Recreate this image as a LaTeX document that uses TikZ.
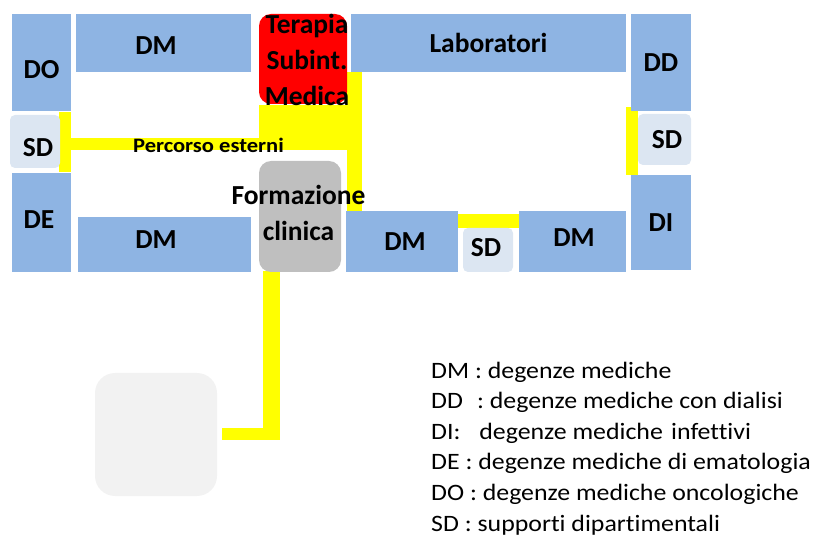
\documentclass[tikz,border=0pt]{standalone}
\usepackage{fontspec}
\setmainfont[Ligatures=NoCommon]{Carlito}
\newfontfamily\widefont[FakeStretch=1.1,Ligatures=NoCommon]{Carlito}
\definecolor{wardblue}{HTML}{8EB4E3}
\definecolor{supportblue}{HTML}{DCE6F2}
\definecolor{corridoryellow}{HTML}{FFFF00}
\definecolor{intensivered}{HTML}{FF0000}
\definecolor{trainingrey}{HTML}{BFBFBF}
\definecolor{paleblock}{HTML}{F2F2F2}
\begin{document}
\begin{tikzpicture}[x=1pt,y=-1pt,
  area/.style={draw=none,inner sep=0pt,outer sep=0pt,anchor=north west},
  ward/.style={area,fill=wardblue},
  support/.style={area,fill=supportblue,rounded corners=5pt},
  boxtext/.style={font=\fontsize{27.5}{36}\selectfont\bfseries,inner sep=0pt,align=center},
  corridor/.style={fill=corridoryellow},
  legendline/.style={anchor=base west,inner sep=0pt,font=\widefont\fontsize{23.5}{30}\selectfont}]
\useasboundingbox (0,0) rectangle (825,537);

% corridors
\fill[corridor] (59,112) rectangle (71,172);
\fill[corridor] (70,138) rectangle (260,150);
\fill[corridor] (259,105) rectangle (348,150);
\fill[corridor] (347,72) rectangle (362,211);
\fill[corridor] (458,214) rectangle (519,228);
\fill[corridor] (626,107) rectangle (638,175);
\fill[corridor] (263,271) rectangle (280,440);
\fill[corridor] (222,428) rectangle (280,440);

% wards, top row
\node[ward,minimum width=59pt,minimum height=97pt,
  label={[boxtext,yshift=-7.5pt]center:DO}] (do) at (12,14) {};
\node[ward,minimum width=175pt,minimum height=58pt,
  label={[boxtext,xshift=-7.5pt,yshift=-3pt]center:DM}] (dmtop) at (76,14) {};
\node[area,fill=intensivered,rounded corners=12pt,minimum width=88pt,minimum height=90pt,
  label={[boxtext,xshift=4pt,yshift=-1pt]center:Terapia\\Subint.\\Medica}] (tsm) at (259,14) {};
\node[ward,minimum width=275pt,minimum height=58pt,
  label={[boxtext]center:Laboratori}] (lab) at (351,14) {};
\node[ward,minimum width=60pt,minimum height=97pt,
  label={[boxtext]center:DD}] (dd) at (631,14) {};

% departmental supports
\node[support,minimum width=50pt,minimum height=53pt,
  label={[boxtext,xshift=3pt,yshift=-6.5pt]center:SD}] (sdleft) at (10,115) {};
\node[support,minimum width=53pt,minimum height=51pt,
  label={[boxtext,xshift=2.5pt]center:SD}] (sdright) at (638,114) {};
\node[support,minimum width=50pt,minimum height=44pt,
  label={[boxtext,xshift=-2pt,yshift=2pt]center:SD}] (sdbottom) at (463,228) {};

% wards, bottom row
\node[ward,minimum width=59pt,minimum height=99pt,
  label={[boxtext,xshift=-2.5pt,yshift=2.5pt]center:DE}] (de) at (12,173) {};
\node[ward,minimum width=173pt,minimum height=55pt,
  label={[boxtext,xshift=-8.5pt,yshift=4.5pt]center:DM}] (dmbottom) at (78,217) {};
\node[area,fill=trainingrey,rounded corners=12pt,minimum width=82pt,minimum height=111pt,
  label={[boxtext,xshift=-1.5pt,yshift=4pt]center:Formazione\\clinica}] (fc) at (259,161) {};
\node[ward,minimum width=112pt,minimum height=61pt,
  label={[boxtext,xshift=3pt]center:DM}] (dmmid) at (346,211) {};
\node[ward,minimum width=107pt,minimum height=61pt,
  label={[boxtext,xshift=1.5pt,yshift=3.5pt]center:DM}] (dmright) at (519,211) {};
\node[ward,minimum width=60pt,minimum height=95pt,
  label={[boxtext]center:DI}] (di) at (631,175) {};

% outer block at the end of the corridor
\node[area,fill=paleblock,rounded corners=20pt,minimum width=122pt,minimum height=123pt] (outer) at (95,373) {};

% corridor caption
\node[inner sep=0pt,font=\widefont\fontsize{20.5}{24}\selectfont\bfseries] (route) at (208.5,145) {Percorso esterni};

% legend
\node[legendline] (leg1) at (431,378) {DM : degenze mediche};
\node[legendline] (leg2) at (431,408.6) {DD\hspace{0.6em}: degenze mediche con dialisi};
\node[legendline] (leg3) at (431,439.2) {DI:\hspace{0.8em}degenze mediche\hspace{0.35em}infettivi};
\node[legendline] (leg4) at (431,469.8) {DE : degenze mediche di ematologia};
\node[legendline] (leg5) at (431,500.4) {DO : degenze mediche oncologiche};
\node[legendline] (leg6) at (431,531) {SD : supporti dipartimentali};
\end{tikzpicture}
\end{document}
